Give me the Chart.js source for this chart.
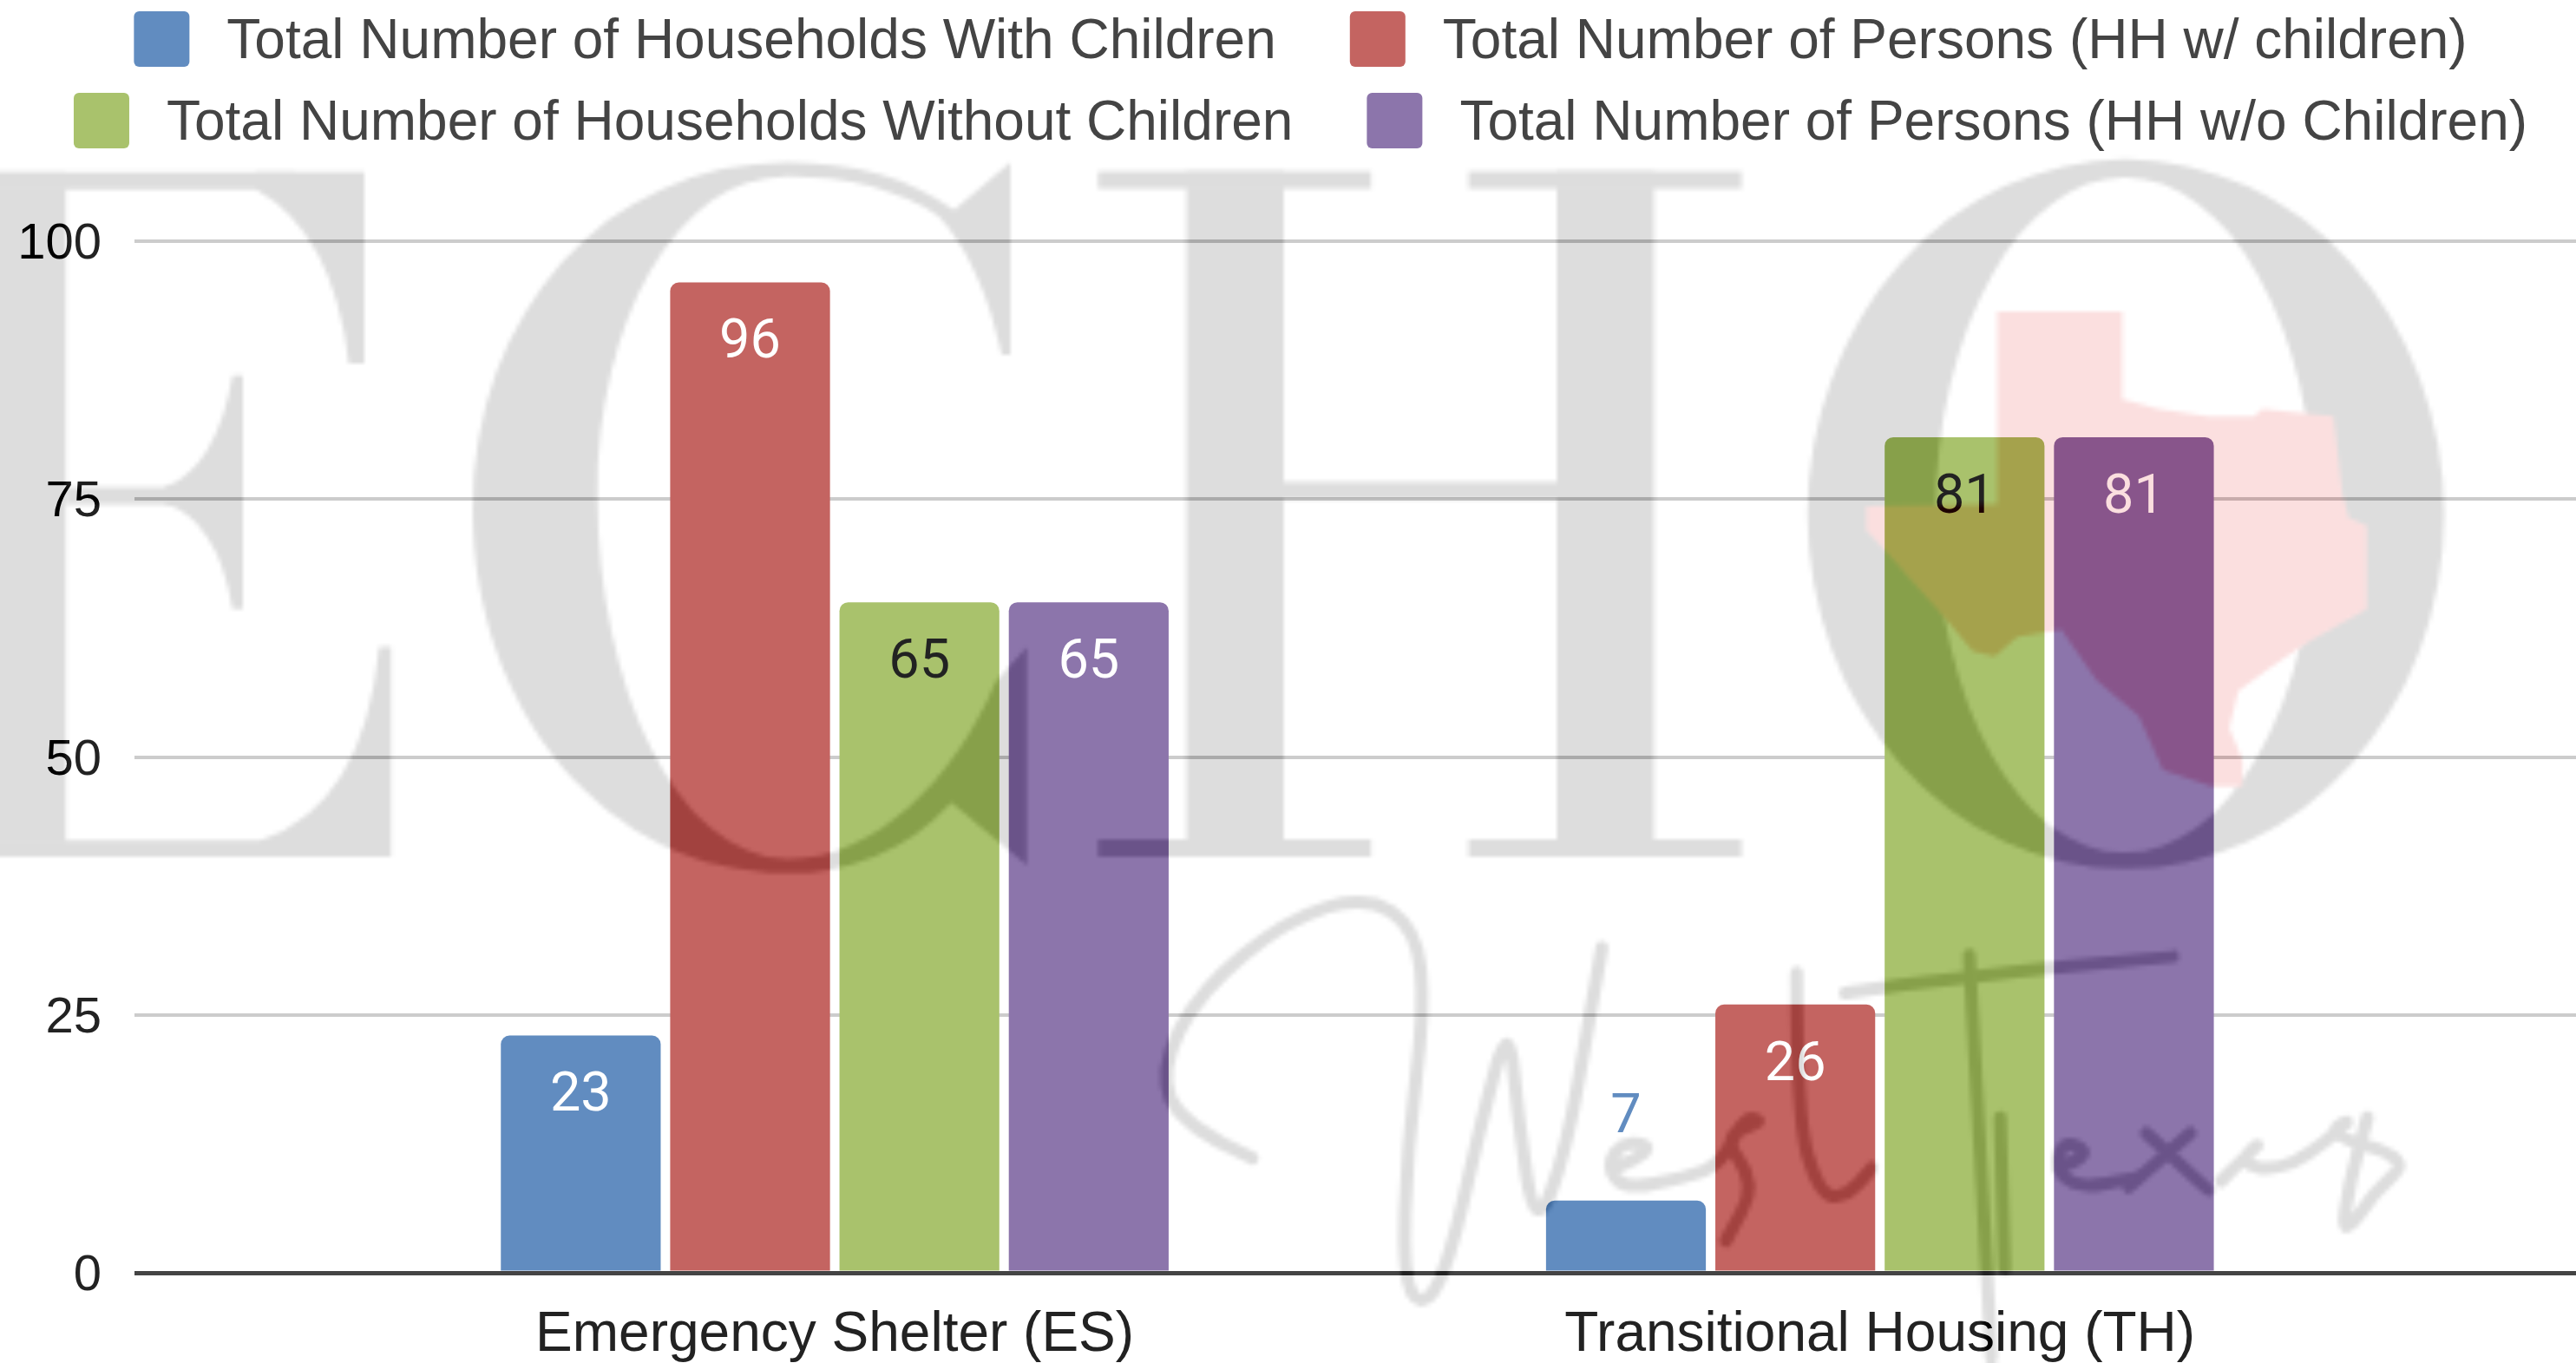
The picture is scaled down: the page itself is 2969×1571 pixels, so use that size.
<!DOCTYPE html>
<html>
<head>
<meta charset="utf-8">
<title>Households and persons by project type</title>
<style>html,body{margin:0;padding:0;background:#fff}canvas{display:block}</style>
<script src="https://cdn.jsdelivr.net/npm/chart.js@4/dist/chart.umd.min.js"></script>
</head>
<body>
<canvas id="c" width="2969" height="1571"></canvas>
<script>
const categories = ['Emergency Shelter (ES)', 'Transitional Housing (TH)'];
const categoryPositions = [0, 1];
const seriesNames = ['Total Number of Households With Children', 'Total Number of Persons (HH w/ children)', 'Total Number of Households Without Children', 'Total Number of Persons (HH w/o Children)'];
const householdsWithChildren = [23, 7];
const personsWithChildren = [96, 26];
const householdsWithoutChildren = [65, 81];
const personsWithoutChildren = [65, 81];
const seriesColors = ['#618cc0', '#c46461', '#a9c26c', '#8c75ab'];
const labelColors = ['#ffffff', '#ffffff', '#222222', '#ffffff'];
const yTicks = [0, 25, 50, 75, 100];
const allSeries = [householdsWithChildren, personsWithChildren, householdsWithoutChildren, personsWithoutChildren];

const SANS = '"Liberation Sans", Arial, sans-serif';

// Legend laid out in the reference's two centred rows
const legendRows = [[0, 1], [2, 3]];
const legendPlugin = {
  id: 'twoRowLegend',
  afterDraw(chart) {
    const ctx = chart.ctx, box = 64, gap = 43, itemGap = 85, cx = 1499;
    ctx.save();
    ctx.font = '64px ' + SANS;
    ctx.textBaseline = 'middle';
    ctx.textAlign = 'left';
    legendRows.forEach((row, r) => {
      const widths = row.map(i => ctx.measureText(chart.data.datasets[i].label).width);
      const total = widths.reduce((a, w) => a + box + gap + w, 0) + itemGap * (row.length - 1);
      let x = cx - total / 2;
      const top = 13 + r * 94;
      row.forEach((i, k) => {
        ctx.fillStyle = chart.data.datasets[i].backgroundColor;
        ctx.beginPath();
        ctx.roundRect(x, top, box, box, 6);
        ctx.fill();
        ctx.fillStyle = '#444444';
        ctx.fillText(chart.data.datasets[i].label, x + box + gap, top + box / 2 + 4);
        x += box + gap + widths[k] + itemGap;
      });
    });
    ctx.restore();
  }
};

// Value labels: inside the bar top, or above when the bar is short
const valueLabelPlugin = {
  id: 'valueLabels',
  afterDatasetsDraw(chart) {
    const ctx = chart.ctx;
    ctx.save();
    ctx.font = '63px Roboto, ' + SANS;
    ctx.textAlign = 'center';
    ctx.textBaseline = 'middle';
    chart.data.datasets.forEach((ds, i) => {
      chart.getDatasetMeta(i).data.forEach((bar, j) => {
        const v = allSeries[i][j];
        const above = v < 10;
        ctx.fillStyle = above ? ds.backgroundColor : labelColors[i];
        ctx.fillText(String(v), bar.x, bar.y + (above ? -95 : 71));
      });
    });
    ctx.restore();
  }
};

// Background watermark, overlaid subtractively as in the reference
const texasOutline = [[495,130],[778,130],[778,352],[860,375],[975,395],[1075,395],[1095,375],[1255,395],[1275,590],[1290,650],[1330,670],[1330,880],[1200,960],[1110,1030],[1040,1085],[1020,1180],[1050,1260],[1050,1325],[980,1325],[870,1285],[815,1150],[720,1060],[640,930],[540,950],[490,1000],[440,985],[360,880],[240,730],[200,680],[200,620],[495,615]];
const scriptStrokes = [
  [[190,930],[110,830],[85,650],[130,400],[230,170],[320,95],[375,200],[385,450],[365,900],[360,1300],[380,1410],[410,1290],[450,800],[480,490],[490,800],[510,1170],[545,900],[570,500],[585,260]],
  [[600,960],[650,900],[610,870],[590,950],[610,1030],[680,990],[720,950],[745,800],[770,810],[720,860],[760,1010],[725,1190]],
  [[805,340],[805,800],[830,1040],[860,1060],[890,960]],
  [[860,405],[1000,350],[1230,290]],
  [[1000,285],[1010,800],[1020,1280],[1025,1560]],
  [[1035,800],[1040,1280]],
  [[1100,960],[1140,920],[1110,870],[1095,950],[1120,1030],[1190,990]],
  [[1200,850],[1270,1030]],
  [[1250,850],[1180,1020]],
  [[1285,1000],[1340,850],[1300,950],[1360,970],[1440,790],[1400,850],[1500,930],[1460,1030],[1420,1190],[1430,1000],[1450,800]]
];
function drawLetterE(g) {
  g.fillRect(-36, 199, 112, 791);
  g.fillRect(-60, 199, 400, 20);
  g.fillRect(-60, 971, 400, 19);
  g.fillRect(76, 563, 140, 20);
  g.beginPath(); g.moveTo(295,219); g.quadraticCurveTo(385,270,402,420); g.lineTo(420,420); g.lineTo(420,199); g.lineTo(295,199); g.closePath(); g.fill();
  g.beginPath(); g.moveTo(268,434); g.lineTo(280,434); g.lineTo(280,704); g.lineTo(268,704); g.quadraticCurveTo(250,600,190,583); g.lineTo(190,563); g.quadraticCurveTo(250,540,268,434); g.closePath(); g.fill();
  g.beginPath(); g.moveTo(437,747); g.lineTo(451,747); g.lineTo(451,990); g.lineTo(300,990); g.lineTo(300,971); g.quadraticCurveTo(420,930,437,747); g.closePath(); g.fill();
}
function drawLetterC(g) {
  g.beginPath();
  g.moveTo(1165,187); g.lineTo(1165,410); g.lineTo(1155,410);
  g.bezierCurveTo(1140,340,1115,285,1082,250);
  g.bezierCurveTo(1040,220,975,204,908,204);
  g.bezierCurveTo(780,204,689,370,689,574);
  g.bezierCurveTo(689,790,780,992,908,992);
  g.bezierCurveTo(1010,992,1100,900,1148,787);
  g.lineTo(1184,748); g.lineTo(1184,1000); g.lineTo(1097,927);
  g.bezierCurveTo(1045,985,975,1009,908,1009);
  g.bezierCurveTo(700,1009,545,820,545,590);
  g.bezierCurveTo(545,360,700,187,908,187);
  g.bezierCurveTo(985,187,1050,205,1100,243);
  g.closePath(); g.fill();
}
function drawLetterH(g) {
  g.fillRect(1368,198,112,792);
  g.fillRect(1795,198,112,792);
  g.fillRect(1266,198,315,20);
  g.fillRect(1693,198,315,20);
  g.fillRect(1266,970,315,20);
  g.fillRect(1693,970,315,20);
  g.fillRect(1480,557,315,20);
}
function drawLetterO(g) {
  g.beginPath();
  g.ellipse(2451,594,367,410,0,0,Math.PI*2);
  g.moveTo(2232,596);
  g.bezierCurveTo(2232,380,2330,205,2450,205);
  g.bezierCurveTo(2570,205,2669,380,2669,596);
  g.bezierCurveTo(2669,810,2570,985,2450,985);
  g.bezierCurveTo(2330,985,2232,810,2232,596);
  g.closePath();
  g.fill('evenodd');
}
function buildWatermark(w, h) {
  const k = 0.2;
  const off = document.createElement('canvas');
  off.width = Math.ceil(w * k); off.height = Math.ceil(h * k);
  const g = off.getContext('2d');
  g.fillStyle = '#000'; g.fillRect(0, 0, off.width, off.height);
  g.scale(k, k);
  const GREY = 'rgb(34,34,34)';
  g.fillStyle = GREY; g.strokeStyle = GREY;
  drawLetterE(g); drawLetterC(g); drawLetterH(g); drawLetterO(g);
  // Script lettering
  const sx = zx => 1250 + zx / 0.98, sy = zy => 1000 + zy / 2.746;
  g.lineWidth = 15; g.lineCap = 'round'; g.lineJoin = 'round';
  scriptStrokes.forEach(pts => {
    g.beginPath();
    g.moveTo(sx(pts[0][0]), sy(pts[0][1]));
    for (let i = 1; i < pts.length - 1; i++) {
      const mx = (sx(pts[i][0]) + sx(pts[i + 1][0])) / 2, my = (sy(pts[i][1]) + sy(pts[i + 1][1])) / 2;
      g.quadraticCurveTo(sx(pts[i][0]), sy(pts[i][1]), mx, my);
    }
    const last = pts[pts.length - 1];
    g.lineTo(sx(last[0]), sy(last[1]));
    g.stroke();
  });
  // Texas
  g.fillStyle = 'rgb(4,32,32)';
  g.beginPath();
  texasOutline.forEach(([zx, zy], i) => {
    const x = 2050 + zx / 1.96, y = 300 + zy / 2.178;
    i ? g.lineTo(x, y) : g.moveTo(x, y);
  });
  g.closePath(); g.fill();
  return off;
}
const watermarkPlugin = {
  id: 'watermark',
  afterDraw(chart) {
    const ctx = chart.ctx;
    ctx.save();
    ctx.globalCompositeOperation = 'difference';
    ctx.imageSmoothingEnabled = true;
    ctx.drawImage(buildWatermark(chart.width, chart.height), 0, 0, chart.width, chart.height);
    ctx.restore();
  }
};
const whiteBackground = {
  id: 'whiteBackground',
  beforeDraw(chart) {
    const ctx = chart.ctx;
    ctx.save();
    ctx.fillStyle = '#ffffff';
    ctx.fillRect(0, 0, chart.width, chart.height);
    ctx.restore();
    chart.scales.y.getLabelItems().forEach(it => { it.textOffset += 4; });
  }
};

new Chart(document.getElementById('c'), {
  type: 'bar',
  data: {
    datasets: allSeries.map((vals, i) => ({
      label: seriesNames[i],
      data: vals.map((v, j) => ({ x: categoryPositions[j], y: v })),
      backgroundColor: seriesColors[i],
      borderRadius: { topLeft: 10, topRight: 10, bottomLeft: 0, bottomRight: 0 },
      borderSkipped: false,
      categoryPercentage: 0.648,
      barPercentage: 0.944
    }))
  },
  plugins: [whiteBackground, legendPlugin, valueLabelPlugin, watermarkPlugin],
  options: {
    responsive: false,
    animation: false,
    devicePixelRatio: 1,
    layout: { padding: { top: 278, left: 0, right: 0, bottom: 0 } },
    plugins: { legend: { display: false }, tooltip: { enabled: false }, title: { display: false } },
    scales: {
      x: {
        type: 'linear',
        offset: false,
        min: -0.67,
        max: 1.666,
        afterBuildTicks(axis) { axis.ticks = categoryPositions.map(v => ({ value: v })); },
        afterFit(axis) { axis.height = 104; },
        grid: { display: false, offset: false },
        border: { display: false },
        ticks: {
          callback: v => categories[v],
          autoSkip: false, maxRotation: 0, minRotation: 0,
          padding: 26,
          color: '#222222',
          font: { family: SANS, size: 64 }
        }
      },
      y: {
        min: 0,
        max: 100,
        afterBuildTicks(axis) { axis.ticks = yTicks.map(v => ({ value: v })); },
        afterFit(axis) { axis.width = 155; },
        grid: {
          drawTicks: false,
          color: c => (c.tick.value === 0 ? '#444444' : '#cccccc'),
          lineWidth: c => (c.tick.value === 0 ? 5 : 4)
        },
        border: { display: false },
        ticks: {
          padding: 38,
          color: '#222222',
          font: { family: SANS, size: 58 }
        }
      }
    }
  }
});
</script>
</body>
</html>
